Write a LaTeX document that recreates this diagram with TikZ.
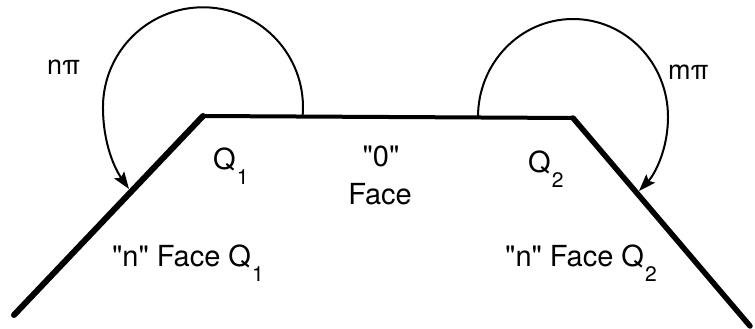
\documentclass[tikz,border=0pt]{standalone}
\usepackage{fontspec}
\setmainfont{TeX Gyre Heros}[Ligatures=TeXOff]
\usetikzlibrary{arrows.meta}
\tikzset{
  lbl/.style={inner sep=0pt, anchor=base west, font=\fontsize{29}{34}\selectfont},
  lblc/.style={inner sep=0pt, anchor=base, font=\fontsize{29}{34}\selectfont},
  anglbl/.style={inner sep=0pt, anchor=base west, font=\fontsize{27}{32}\selectfont},
  edge/.style={line width=6pt, line cap=round, line join=miter},
  topedge/.style={line width=4pt},
  turn/.style={line width=2pt, -{Stealth[length=17pt,width=12pt,inset=3pt]}}
}
\newcommand{\subq}[1]{\kern1pt\raisebox{-15pt}{\fontsize{21}{21}\selectfont #1}}
\begin{document}
\begin{tikzpicture}[x=1pt,y=1pt]
\useasboundingbox (0,0) rectangle (755,329);
% polyline vertices
\coordinate (A) at (14,14);
\coordinate (B) at (203,213);
\coordinate (C) at (573,211);
\coordinate (D) at (750,3);
\draw[topedge] (B) -- (C);
\draw[edge] (A) -- (B);
\draw[line width=5.5pt, line cap=round] (C) -- (D);
% arc start / arrow tip points
\coordinate (s1) at (302.6,213);
\coordinate (t1) at (129,140);
\coordinate (s2) at (478,212);
\coordinate (t2) at (639,138);
\draw[turn] (s1) arc[start angle=-5, end angle=180, radius=100]
  .. controls (103,185) and (115,160) .. (t1);
\draw[turn] (s2) arc[start angle=180, end angle=0, x radius=95, y radius=98]
  .. controls (668,180) and (655,155) .. (t2);
% labels
\node[anglbl] (npi) at (47,254) {nπ};
\node[anglbl] (mpi) at (668,249) {mπ};
\node[lbl] (q1) at (213,159) {Q\subq{1}};
\node[lbl] (q2) at (528,156) {Q\subq{2}};
\node[lblc] (zero) at (381,162) {"0"};
\node[lblc] (face) at (380,124) {Face};
\node[lbl] (f1) at (112,62) {"n" Face Q\subq{1}};
\node[lbl] (f2) at (505,62) {"n" Face Q\subq{2}};
\end{tikzpicture}
\end{document}
